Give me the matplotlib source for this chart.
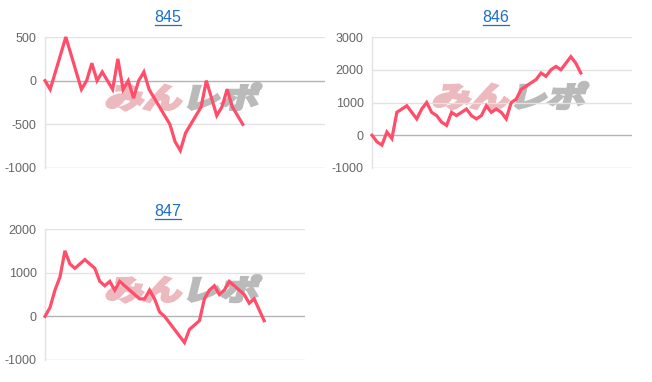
import matplotlib
matplotlib.use('Agg')
import matplotlib.pyplot as plt
from matplotlib.textpath import TextPath
from matplotlib.patches import PathPatch
from matplotlib.font_manager import FontProperties
from matplotlib.transforms import Affine2D
from matplotlib.lines import Line2D

plt.rcParams['font.family'] = ['Liberation Sans', 'DejaVu Sans']

# data
names = ['845', '846', '847']
p845 = [0, -100, 100, 300, 500, 300, 100, -100, 0, 200, 0, 100, 0, -100, 250,
        -100, 0, -200, 0, 100, -100, -200, -300, -400, -500, -700, -800, -600,
        -500, -400, -300, 0, -200, -400, -300, -100, -300, -400, -500]
p846 = [0, -200, -300, 100, -100, 700, 800, 900, 700, 500, 800, 1000, 700, 600,
        400, 300, 700, 600, 700, 800, 600, 500, 600, 900, 700, 800, 700, 500,
        1000, 1100, 1400, 1500, 1600, 1700, 1900, 1800, 2000, 2100, 2000, 2200,
        2400, 2200, 1900]
p847 = [0, 200, 600, 900, 1500, 1200, 1100, 1200, 1300, 1200, 1100, 800, 700,
        800, 600, 800, 700, 600, 500, 400, 400, 600, 400, 100, 0, -150, -300,
        -450, -600, -300, -200, -100, 400, 600, 700, 500, 600, 800, 700, 600,
        500, 300, 400, 150, -100]
series = [p845, p846, p847]
yticks = [[-1000, -500, 0, 500],
          [-1000, 0, 1000, 2000, 3000],
          [-1000, 0, 1000, 2000]]

W, H = 652, 382
fig = plt.figure(figsize=(W / 100, H / 100), dpi=100)

# plot boxes in pixels: left, top, right, bottom
boxes = [(45, 37, 325, 168), (372, 37, 632, 168), (45, 229, 305, 360)]
xmaxs = [53.8, 52.3, 52.2]
title_pos = [(168, 18), (496, 18), (168, 212)]
mark_pos = [(104, 108), (431, 107), (104, 300)]

line_col = '#ff4d6a'
fp = FontProperties(family='Noto Sans CJK JP', weight='bold')


def watermark(x, y):
    # x, y: left / bottom of the logo in pixels from top-left
    for txt, col, dx in [('みん', '#ebb9be', 0), ('レポ', '#bababa', 77)]:
        tp = TextPath((0, 0), txt, size=30, prop=fp)
        tr = Affine2D().scale(1.28, 0.95).skew_deg(14, 0).translate(x + dx, H - y)
        fig.add_artist(PathPatch(tr.transform_path(tp), facecolor=col,
                                 edgecolor=col, lw=2.2, transform=None, zorder=1))


titles = []
for i in range(3):
    l, t, r, b = boxes[i]
    ax = fig.add_axes([l / W, 1 - b / H, (r - l) / W, (b - t) / H])
    ax.set_facecolor('none')
    ax.set_zorder(2)
    ax.set_xlim(0, xmaxs[i])
    ax.set_ylim(yticks[i][0], yticks[i][-1])
    ax.set_yticks(yticks[i])
    ax.set_yticklabels([str(v) for v in yticks[i]], color='#666666', fontsize=9)
    ax.set_xticks([])
    ax.tick_params(axis='y', length=0, pad=6)
    for v in yticks[i]:
        c = '#e2e2e2'
        if v == 0:
            c = '#b3b3b3'
        elif v == yticks[i][0]:
            c = '#cfcfcf'
        ax.axhline(v, color=c, lw=1, zorder=1)
    for s in ['top', 'right', 'bottom']:
        ax.spines[s].set_visible(False)
    ax.spines['left'].set_color('#e2e2e2')
    ax.spines['left'].set_linewidth(1)
    ax.plot(range(len(series[i])), series[i], color=line_col, lw=2.3,
            solid_joinstyle='miter', clip_on=False, zorder=3)
    watermark(*mark_pos[i])
    tx, ty = title_pos[i]
    titles.append(fig.text(tx / W, 1 - ty / H, names[i], color='#1a6ecc',
                           fontsize=11.5, ha='center', va='center'))

fig.canvas.draw()
for t in titles:
    bb = t.get_window_extent()
    yl = (bb.y0 + 0.5) / H
    fig.add_artist(Line2D([bb.x0 / W, bb.x1 / W], [yl, yl], color='#1a6ecc', lw=0.9))

fig.savefig('out.png', dpi=100)
